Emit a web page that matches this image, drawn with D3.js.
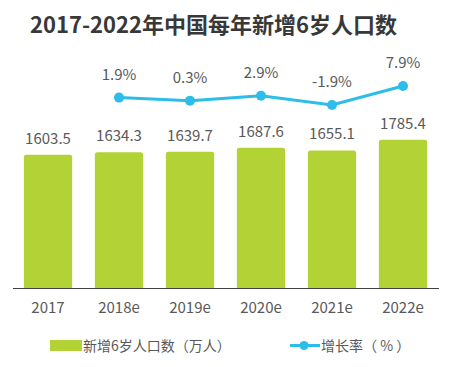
<!DOCTYPE html>
<html>
<head>
<meta charset="utf-8">
<script src="https://cdn.jsdelivr.net/npm/d3@7"></script>
<style>
html,body{margin:0;padding:0;background:#fff;}
svg{display:block;}
</style>
</head>
<body>
<svg id="chart" width="450" height="367"></svg>
<script>
const titleText = "2017-2022年中国每年新增6岁人口数";
const categories = ["2017", "2018e", "2019e", "2020e", "2021e", "2022e"];
const newSixYearOlds = [1603.5, 1634.3, 1639.7, 1687.6, 1655.1, 1785.4];
const growthRate = [null, 1.9, 0.3, 2.9, -1.9, 7.9];
const legendLabels = ["新增6岁人口数（万人）", "增长率（ % ）"];

const FONT = "'Noto Sans CJK SC', 'Noto Sans', sans-serif";
const GREEN = "#b3d235";
const BLUE = "#2cbdea";
const GRAY = "#595959";

const svg = d3.select("#chart");

svg.append("text")
  .attr("x", 30).attr("y", 33)
  .attr("font-family", FONT).attr("font-size", 22).attr("font-weight", "bold")
  .attr("fill", "#383838")
  .text(titleText);

const x = d3.scaleBand().domain(categories).range([12.5, 438.5])
  .paddingInner(0.32).paddingOuter(0.16);
const yBar = d3.scaleLinear().domain([0, 2000]).range([288, 121.8]);
const yLine = d3.scaleLinear().domain([-5, 10]).range([111, 81.9]);

// bars
svg.append("g").selectAll("path").data(newSixYearOlds).join("path")
  .attr("fill", GREEN)
  .attr("d", (d, i) => {
    const x0 = x(categories[i]), w = x.bandwidth(), y0 = yBar(d), y1 = yBar(0), r = 2.5;
    return `M${x0},${y1}V${y0 + r}Q${x0},${y0} ${x0 + r},${y0}H${x0 + w - r}Q${x0 + w},${y0} ${x0 + w},${y0 + r}V${y1}Z`;
  });

// bar labels
svg.append("g").selectAll("text").data(newSixYearOlds).join("text")
  .attr("x", (d, i) => x(categories[i]) + x.bandwidth() / 2)
  .attr("y", d => yBar(d) - 11)
  .attr("text-anchor", "middle")
  .attr("font-family", FONT).attr("font-size", 15).attr("fill", GRAY)
  .text(d => d.toFixed(1));

// axis
const xAxis = d3.axisBottom(x).tickSize(0).tickPadding(14);
const ax = svg.append("g").attr("transform", "translate(0,288)").call(xAxis);
ax.select(".domain").attr("stroke", "#404040").attr("stroke-width", 1);
ax.selectAll("text").attr("font-family", FONT).attr("font-size", 15).attr("fill", GRAY);

// line
const pts = growthRate.map((v, i) => ({v, c: categories[i]})).filter(d => d.v !== null);
const line = d3.line().x(d => x(d.c) + x.bandwidth() / 2).y(d => yLine(d.v));
svg.append("path").datum(pts).attr("d", line)
  .attr("fill", "none").attr("stroke", BLUE).attr("stroke-width", 3);
svg.append("g").selectAll("circle").data(pts).join("circle")
  .attr("cx", d => x(d.c) + x.bandwidth() / 2).attr("cy", d => yLine(d.v))
  .attr("r", 5).attr("fill", BLUE);
svg.append("g").selectAll("text").data(pts).join("text")
  .attr("x", d => x(d.c) + x.bandwidth() / 2)
  .attr("y", d => yLine(d.v) - 18)
  .attr("text-anchor", "middle")
  .attr("font-family", FONT).attr("font-size", 15).attr("fill", GRAY)
  .text(d => d.v.toFixed(1) + "%");

// legend
const lg = svg.append("g");
lg.append("rect").attr("x", 50).attr("y", 340).attr("width", 32).attr("height", 11).attr("fill", GREEN);
lg.append("text").attr("x", 83).attr("y", 351)
  .attr("font-family", FONT).attr("font-size", 14).attr("fill", GRAY).text(legendLabels[0]);
lg.append("line").attr("x1", 290).attr("x2", 320).attr("y1", 345.5).attr("y2", 345.5)
  .attr("stroke", BLUE).attr("stroke-width", 3);
lg.append("circle").attr("cx", 304).attr("cy", 345.5).attr("r", 4.5).attr("fill", BLUE);
lg.append("text").attr("x", 321).attr("y", 351)
  .attr("font-family", FONT).attr("font-size", 14).attr("fill", GRAY).text(legendLabels[1]);
</script>
</body>
</html>
